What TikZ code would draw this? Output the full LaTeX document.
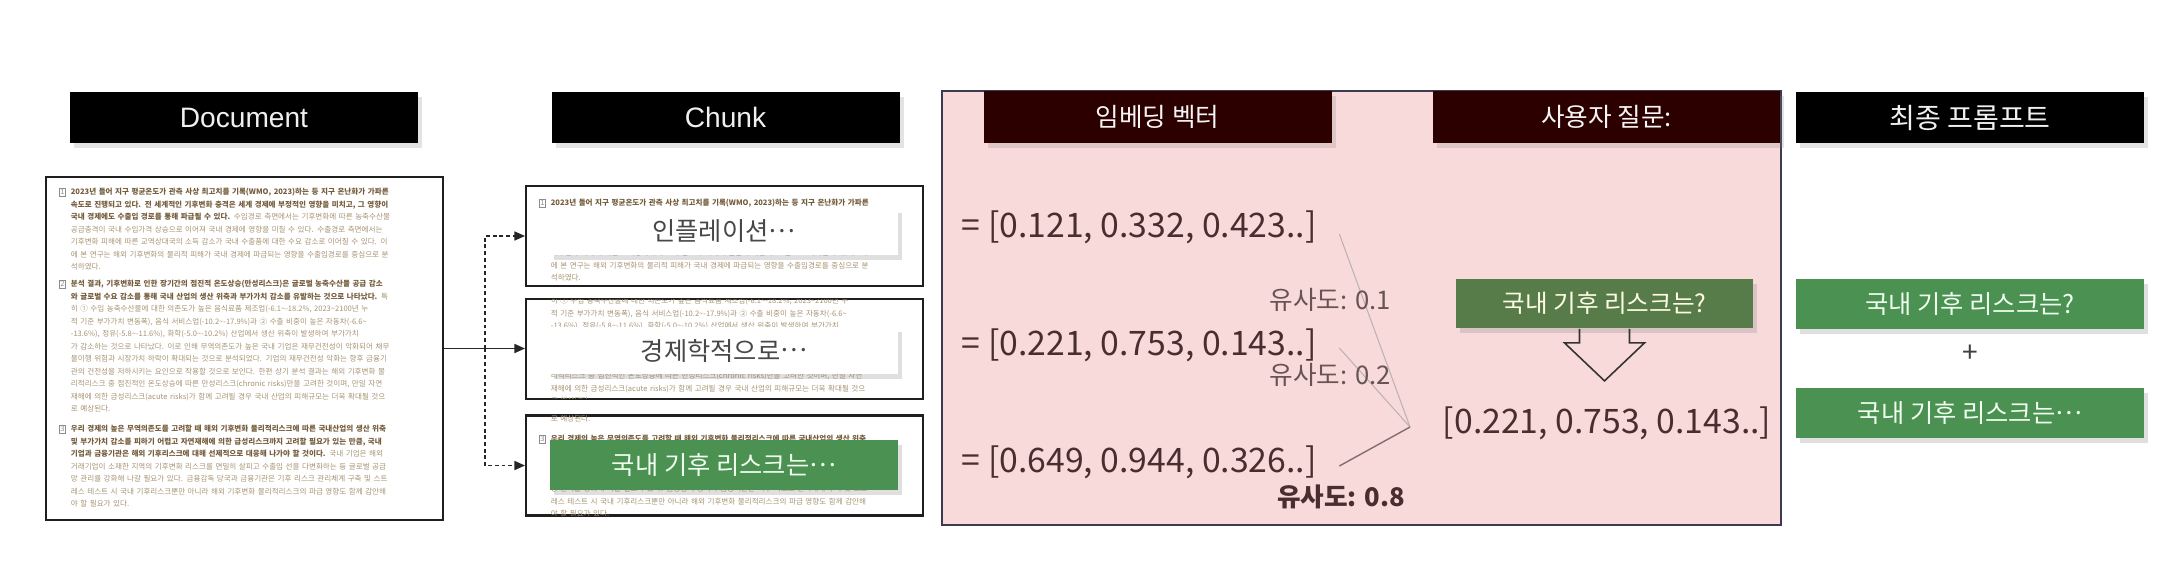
\documentclass[tikz,border=0pt]{standalone}
\usepackage{fontspec}
\setmainfont{Noto Sans CJK KR}
\newfontfamily\latinhead{Liberation Sans}
\usetikzlibrary{positioning,calc,arrows.meta,shadows}

\definecolor{panelpink}{RGB}{249,218,219}
\definecolor{panelrule}{RGB}{62,58,82}
\definecolor{hdrmaroon}{RGB}{45,0,0}
\definecolor{qgreen}{RGB}{88,124,73}
\definecolor{pgreen}{RGB}{74,145,82}
\definecolor{vecink}{RGB}{72,46,46}
\definecolor{simink}{RGB}{105,84,84}
\definecolor{docbold}{RGB}{116,92,60}
\definecolor{doclight}{RGB}{166,146,114}

\newlength\docw
\setlength\docw{3.43cm}
\newcommand{\doctext}{\fontsize{2.15pt}{3.55pt}\selectfont}
\newcommand{\dl}[1]{\noindent\makebox[\docw][s]{#1}\par}
\newcommand{\dlast}[1]{\noindent\makebox[\docw][l]{#1}\par}
\newcommand{\db}[1]{{\bfseries\color{docbold}#1}}
\newcommand{\pmark}[1]{\llap{\fboxsep=0.25pt\fboxrule=0.15pt\textcolor{black!45}{\fbox{#1}}\hspace{1.4pt}}}
\newcommand{\mdots}{\raisebox{0.32em}{…}}

\newcommand{\paraA}{%
\dl{\pmark{1}\db{2023년 들어 지구 평균온도가 관측 사상 최고치를 기록(WMO, 2023)하는 등 지구 온난화가 가파른}}
\dl{\db{속도로 진행되고 있다. 전 세계적인 기후변화 충격은 세계 경제에 부정적인 영향을 미치고, 그 영향이}}
\dl{\db{국내 경제에도 수출입 경로를 통해 파급될 수 있다.} 수입경로 측면에서는 기후변화에 따른 농축수산물}
\dl{공급충격이 국내 수입가격 상승으로 이어져 국내 경제에 영향을 미칠 수 있다. 수출경로 측면에서는}
\dl{기후변화 피해에 따른 교역상대국의 소득 감소가 국내 수출품에 대한 수요 감소로 이어질 수 있다. 이}
\dl{에 본 연구는 해외 기후변화의 물리적 피해가 국내 경제에 파급되는 영향을 수출입경로를 중심으로 분}
\dlast{석하였다.}}

\newcommand{\paraB}{%
\dl{\pmark{2}\db{분석 결과, 기후변화로 인한 장기간의 점진적 온도상승(만성리스크)은 글로벌 농축수산물 공급 감소}}
\dl{\db{와 글로벌 수요 감소를 통해 국내 산업의 생산 위축과 부가가치 감소를 유발하는 것으로 나타났다.} 특}
\dl{히 ① 수입 농축수산물에 대한 의존도가 높은 음식료품 제조업(-6.1\textasciitilde-18.2\%, 2023\textasciitilde2100년 누}
\dl{적 기준 부가가치 변동폭), 음식 서비스업(-10.2\textasciitilde-17.9\%)과 ② 수출 비중이 높은 자동차(-6.6\textasciitilde}
\dl{-13.6\%), 정유(-5.8\textasciitilde-11.6\%), 화학(-5.0\textasciitilde-10.2\%) 산업에서 생산 위축이 발생하여 부가가치}
\dl{가 감소하는 것으로 나타났다. 이로 인해 무역의존도가 높은 국내 기업은 재무건전성이 악화되어 채무}
\dl{불이행 위험과 시장가치 하락이 확대되는 것으로 분석되었다. 기업의 재무건전성 악화는 향후 금융기}
\dl{관의 건전성을 저하시키는 요인으로 작용할 것으로 보인다. 한편 상기 분석 결과는 해외 기후변화 물}
\dl{리적리스크 중 점진적인 온도상승에 따른 만성리스크(chronic risks)만을 고려한 것이며, 만일 자연}
\dl{재해에 의한 급성리스크(acute risks)가 함께 고려될 경우 국내 산업의 피해규모는 더욱 확대될 것으}
\dlast{로 예상된다.}}

\newcommand{\paraC}{%
\dl{\pmark{3}\db{우리 경제의 높은 무역의존도를 고려할 때 해외 기후변화 물리적리스크에 따른 국내산업의 생산 위축}}
\dl{\db{및 부가가치 감소를 피하기 어렵고 자연재해에 의한 급성리스크까지 고려할 필요가 있는 만큼, 국내}}
\dl{\db{기업과 금융기관은 해외 기후리스크에 대해 선제적으로 대응해 나가야 할 것이다.} 국내 기업은 해외}
\dl{거래기업이 소재한 지역의 기후변화 리스크를 면밀히 살피고 수출입 선을 다변화하는 등 글로벌 공급}
\dl{망 관리를 강화해 나갈 필요가 있다. 금융감독 당국과 금융기관은 기후 리스크 관리체계 구축 및 스트}
\dl{레스 테스트 시 국내 기후리스크뿐만 아니라 해외 기후변화 물리적리스크의 파급 영향도 함께 감안해}
\dlast{야 할 필요가 있다.}}

% the three paragraphs of the source page, #1 = name prefix
\newcommand{\docbody}[1]{%
  \node[sdoc] (#1-p1) at (70,187) {\paraA};
  \node[sdoc] (#1-p2) at (70,279) {\paraB};
  \node[sdoc] (#1-p3) at (70,424) {\paraC};
}

\tikzset{
  every picture/.style={line width=0.5pt},
  shead/.style={fill=black, text=black!6, minimum width=3.48cm, minimum height=0.51cm,
                inner sep=0pt, font=\fontsize{7.3pt}{8.8pt}\selectfont,
                drop shadow={shadow xshift=1.2pt, shadow yshift=-1.5pt, opacity=0.22}},
  sheadL/.style={shead, font=\latinhead\fontsize{8pt}{9.6pt}\selectfont},
  sheadE/.style={shead, fill=hdrmaroon, text=black!4, minimum height=0.52cm},
  sframe/.style={draw=black!88, line width=0.6pt, minimum width=3.97cm, inner sep=0pt},
  spanel/.style={draw=panelrule, fill=panelpink, line width=0.55pt,
                 minimum width=8.39cm, minimum height=4.34cm, inner sep=0pt},
  sdoc/.style={anchor=north west, inner sep=0pt, text width=\docw, font=\doctext, text=doclight},
  swlabel/.style={fill=white, text=black!72, minimum width=3.48cm, minimum height=0.47cm,
                  inner sep=0pt, font=\fontsize{7.2pt}{8.6pt}\selectfont,
                  drop shadow={shadow xshift=1.2pt, shadow yshift=-1.5pt, opacity=0.25}},
  sglabel/.style={swlabel, fill=pgreen, text=white!94!green, minimum height=0.5cm},
  sqbox/.style={swlabel, fill=qgreen, text=white!90!yellow, minimum width=2.97cm,
                minimum height=0.49cm, font=\fontsize{7pt}{8.4pt}\selectfont},
  svec/.style={inner sep=0pt, text=vecink, font=\fontsize{9.6pt}{11.5pt}\selectfont},
  ssim/.style={inner sep=0pt, text=simink, font=\fontsize{7.3pt}{8.8pt}\selectfont},
  ssimline/.style={draw=simink!45, line width=0.3pt},
  sflow/.style={draw=black!85, line width=0.35pt, -{Triangle[length=3pt,width=2.6pt]}},
  sflowD/.style={sflow, dash pattern=on 1.1pt off 0.8pt},
  shollow/.style={draw=black!80, line width=0.45pt, line join=miter},
}

\begin{document}
\begin{tikzpicture}[x=0.1mm, y=-0.1mm]
  \useasboundingbox (0,0) rectangle (2178,582);

  % Document
  \node[sheadL] (dochd) at (244,117.5) {Document};
  \node[sframe, minimum height=3.43cm] (doc) at (244.5,348.5) {};
  \docbody{d}

  % Chunk
  \node[sheadL] (chhd) at (725.5,117.5) {Chunk};
  \foreach \n/\y/\dy in {1/236/11, 2/349/-8, 3/465.5/10} {
    \node[sframe, minimum height=1cm] (ch\n) at (724.5,\y) {};
    \begin{scope}
      \clip ($(ch\n.south west)+(1.5,-1.5)$) rectangle ($(ch\n.north east)+(-1.5,1.5)$);
      \begin{scope}[shift={(480,\dy)}]
        \docbody{c\n}
      \end{scope}
    \end{scope}
  }
  \node[swlabel] (lab1) at (724,231.5) {인플레이션\mdots};
  \node[swlabel] (lab2) at (724,350.5) {경제학적으로\mdots};
  \node[sglabel] (lab3) at (724,465) {국내 기후 리스크는\mdots};

  \coordinate (split) at ($(doc.east)+(41,0)$);
  \draw[sflow] (doc.east) -- (doc.east -| ch2.west);
  \draw[sflowD] (split) |- (ch1.west);
  \draw[sflowD] (split) |- (ch3.west);

  % embedding panel
  \node[spanel] (emb) at (1361.5,308) {};
  \node[sheadE] (embhd) at (1157.5,117) {임베딩 벡터};
  \node[sheadE, minimum width=3.47cm] (qhd) at (1606.5,117) {사용자 질문:};

  \node[svec, anchor=west] (v1) at (961,227) {= [0.121, 0.332, 0.423..]};
  \node[svec, anchor=west] (v2) at (961,345) {= [0.221, 0.753, 0.143..]};
  \node[svec, anchor=west] (v3) at (961,462) {= [0.649, 0.944, 0.326..]};

  \coordinate (sim) at (1410,427);
  \draw[ssimline] ($(v1.east)+(22,7)$) -- (sim);
  \draw[ssimline] ($(v2.east)+(22,3)$) -- (sim);
  \draw[ssimline, draw=simink!85, line width=0.4pt] ($(v3.east)+(22,4)$) -- (sim);
  \node[ssim] (s1) at (1330,300) {유사도: 0.1};
  \node[ssim] (s2) at (1330,375) {유사도: 0.2};
  \node[ssim, text=vecink, font=\bfseries\fontsize{7.3pt}{8.8pt}\selectfont] (s3) at (1341,497) {유사도: 0.8};

  \node[sqbox] (q) at (1604.5,303.5) {국내 기후 리스크는?};
  \draw[shollow] ($(q.south)+(-25,0)$) -- ++(0,14) -- ++(-15,0) -- ($(q.south)+(0,52)$)
    -- ($(q.south)+(40,14)$) -- ++(-15,0) -- ++(0,-14);
  \node[svec] (qv) at (1607,423) {[0.221, 0.753, 0.143..]};

  % final prompt
  \node[shead, font=\fontsize{8pt}{9.6pt}\selectfont] (fphd) at (1970,117.5) {최종 프롬프트};
  \node[sglabel, minimum height=0.5cm] (fq) at (1970,304) {국내 기후 리스크는?};
  \node[inner sep=0pt, text=black!75, font=\fontsize{8pt}{9pt}\selectfont] (plus) at (1970,354) {+};
  \node[sglabel, minimum height=0.5cm] (fc) at (1970,413) {국내 기후 리스크는\mdots};
\end{tikzpicture}
\end{document}
